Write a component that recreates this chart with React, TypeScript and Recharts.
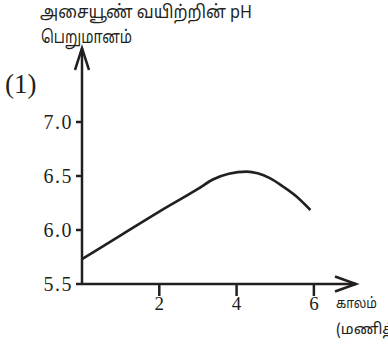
import React from "react";
import { LineChart, Line, XAxis, YAxis, ReferenceDot } from "recharts";

const timeHours = [0, 1, 2, 3, 3.4, 3.8, 4.26, 4.86, 5.21, 5.55, 5.91];
const phValues = [5.73, 5.95, 6.17, 6.38, 6.47, 6.52, 6.54, 6.48, 6.4, 6.31, 6.185];
const xTicks = [2, 4, 6];
const yTicks = [5.5, 6.0, 6.5, 7.0];
const yTitle1 = "அசையூண் வயிற்றின் pH";
const yTitle2 = "பெறுமானம்";
const xTitle1 = "காலம்";
const xTitle2 = "(மணித்தியாலம்)";
const panelLabel = "(1)";

const X_MAX = 7.09;
const Y_MIN = 5.5;
const Y_MAX = 7.685;

const data = timeHours.map((t, i) => ({ t, ph: phValues[i] }));

const INK = "#231f20";
const serif = "'Liberation Serif', 'Times New Roman', serif";
const tamil = "'Noto Sans Tamil', 'Noto Serif Tamil', 'Lohit Tamil', Latha, 'Liberation Serif', serif";

const RightArrow = (props: any) => {
  const { cx, cy } = props;
  return (
    <path
      d={`M${cx - 21},${cy - 7.5} L${cx},${cy} L${cx - 21},${cy + 7.5}`}
      fill="none"
      stroke={INK}
      strokeWidth={2.5}
    />
  );
};

const UpArrow = (props: any) => {
  const { cx, cy } = props;
  return (
    <path
      d={`M${cx - 7},${cy + 22} L${cx},${cy} L${cx + 7},${cy + 22}`}
      fill="none"
      stroke={INK}
      strokeWidth={2.5}
    />
  );
};

const YTick = (props: any) => {
  const { x, y, payload } = props;
  return (
    <text
      x={x}
      y={y}
      dy="0.34em"
      textAnchor="end"
      fontSize={20}
      letterSpacing={1.5}
      fontFamily={serif}
      fill={INK}
    >
      {Number(payload.value).toFixed(1)}
    </text>
  );
};

const XTick = (props: any) => {
  const { x, y, payload } = props;
  return (
    <text x={x} y={y} dy="0.72em" textAnchor="middle" fontSize={19} fontFamily={serif} fill={INK}>
      {payload.value}
    </text>
  );
};

export default function App() {
  return (
    <div style={{ position: "absolute", left: 0, top: 0, width: 388, height: 345, background: "#fff" }}>
      <LineChart
        width={388}
        height={345}
        data={data}
        margin={{ top: 48, right: 32, bottom: 31, left: 22 }}
      >
        <XAxis
          dataKey="t"
          type="number"
          domain={[0, X_MAX]}
          ticks={xTicks}
          axisLine={{ stroke: INK, strokeWidth: 2.5 }}
          tickLine={{ stroke: INK, strokeWidth: 2.5 }}
          tickSize={12}
          tickMargin={0}
          height={30}
          tick={XTick}
        />
        <YAxis
          type="number"
          domain={[Y_MIN, Y_MAX]}
          ticks={yTicks}
          allowDataOverflow
          width={60}
          axisLine={{ stroke: INK, strokeWidth: 2.5 }}
          tickLine={{ stroke: INK, strokeWidth: 2.5 }}
          tickSize={6}
          tickMargin={3}
          tick={YTick}
        />
        <Line
          dataKey="ph"
          type="monotone"
          stroke={INK}
          strokeWidth={2.6}
          dot={false}
          isAnimationActive={false}
        />
        <ReferenceDot x={X_MAX} y={Y_MIN} r={0} ifOverflow="visible" shape={RightArrow} />
        <ReferenceDot x={0} y={Y_MAX} r={0} ifOverflow="visible" shape={UpArrow} />
      </LineChart>
      <svg
        width={388}
        height={345}
        style={{ position: "absolute", left: 0, top: 0, pointerEvents: "none" }}
      >
        <text x={40} y={18} fontSize={18} fontFamily={tamil} fill={INK} textLength={212} lengthAdjust="spacingAndGlyphs">{yTitle1}</text>
        <text x={41} y={43} fontSize={18} fontFamily={tamil} fill={INK} textLength={91} lengthAdjust="spacingAndGlyphs">{yTitle2}</text>
        <text x={5} y={93} fontSize={27} fontFamily={serif} fill={INK}>{panelLabel}</text>
        <text x={336} y={308} fontSize={15} fontFamily={tamil} fill={INK} textLength={41} lengthAdjust="spacingAndGlyphs">{xTitle1}</text>
        <text x={336} y={334} fontSize={15} fontFamily={tamil} fill={INK}>{xTitle2}</text>
      </svg>
    </div>
  );
}
